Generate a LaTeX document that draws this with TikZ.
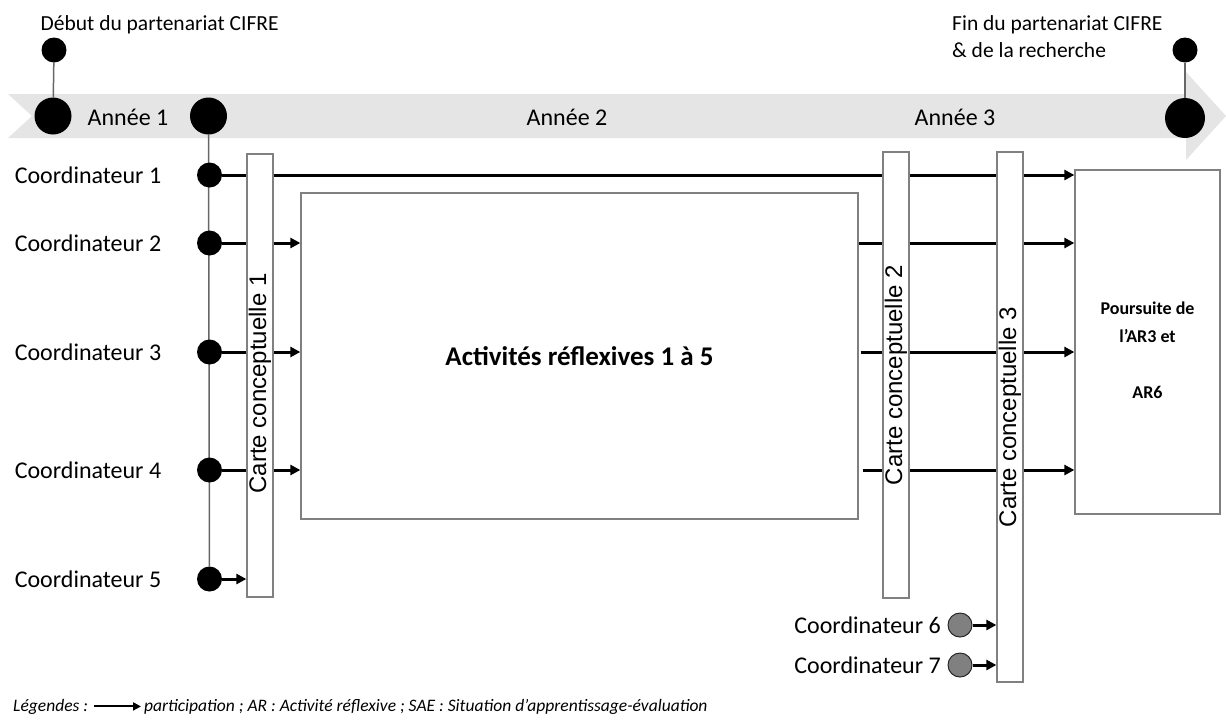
\documentclass[tikz,border=0pt]{standalone}
\usepackage{fontspec}
\setmainfont{Carlito}
\newfontfamily\arialfont{Liberation Sans}
\usetikzlibrary{arrows.meta, calc}
\pgfdeclarelayer{background}
\pgfsetlayers{background,main}

\begin{document}
\begin{tikzpicture}[x=1pt, y=-1pt, every node/.style={font=\fontsize{24}{29}\selectfont, inner sep=0pt}]
\tikzstyle{jalon} = [circle, fill=black, minimum size=37pt]
\tikzstyle{petitjalon} = [circle, fill=black, minimum size=25pt]
\tikzstyle{coordpt} = [circle, fill=black, minimum size=25pt]
\tikzstyle{coordgris} = [circle, draw=black!85, line width=1pt, fill=black!50, minimum size=24pt]
\tikzstyle{carte} = [rectangle, rotate=90, draw=black!50, line width=1.3pt, fill=white, minimum height=26pt, font=\arialfont\fontsize{24}{29}\selectfont]
\tikzstyle{bloc} = [rectangle, draw=black!50, line width=1.3pt, fill=white, align=center]
\tikzstyle{toplabel} = [font=\fontsize{21.5}{26}\selectfont]
\tikzstyle{legende} = [font=\itshape\fontsize{17.5}{21}\selectfont]
\tikzstyle{link} = [line width=3pt, -{Triangle[length=10pt, width=10pt]}]
\tikzstyle{fil} = [line width=1.5pt, black!60]

\useasboundingbox (0,0) rectangle (1226,724);

% Timeline (top)
\node[jalon] (t0) at (53,116) {};
\node[jalon] (t1) at (208.5,116) {};
\node[jalon, minimum size=40pt] (tfin) at (1185,118) {};
\node[petitjalon] (p0) at (54,50) {};
\node[petitjalon] (pfin) at (1185,50) {};
\node[toplabel, anchor=base west] (debut) at (40.5,30) {Début du partenariat CIFRE};
\node[toplabel, anchor=base west] (fin) at (952,30) {Fin du partenariat CIFRE};
\node[toplabel, anchor=base west] (fin2) at (952,57) {\& de la recherche};
\node (annee1) at (128,117) {Année 1};
\node (annee2) at (567,117) {Année 2};
\node (annee3) at (955,117) {Année 3};

% Coordinators 1 to 5 - on the vertical line
\foreach \i/\y in {1/175, 2/243, 3/352, 4/470, 5/579}{
  \node[coordpt] (c\i) at (209.5,\y) {};
  \node (l\i) at (88,\y) {Coordinateur \i};
}

% Coordinators 6 and 7 (grey)
\node[coordgris] (c6) at (960,625) {};
\node[coordgris] (c7) at (960,665) {};
\node[anchor=east] (l6) at (941,625) {Coordinateur 6};
\node[anchor=east] (l7) at (941,665) {Coordinateur 7};

% Concept maps and activity blocks
\node[carte, minimum width=443pt] (k1) at (260,375.5) {Carte conceptuelle 1\hspace*{16pt}};
\node[carte, minimum width=446pt] (k2) at (896,375) {Carte conceptuelle 2};
\node[carte, minimum width=530pt] (k3) at (1010,417) {Carte conceptuelle 3};
\node[bloc, minimum width=557pt, minimum height=326pt, font=\bfseries\fontsize{27}{32}\selectfont] (act) at (579.5,356) {Activités réflexives 1 à 5};
\node[bloc, minimum width=145pt, minimum height=344pt] (suite) at (1147.5,342) {};
\node[align=center, font=\bfseries\fontsize{18}{28}\selectfont] (suitetxt) at (1147.5,350) {Poursuite de\\l’AR3 et\\[28pt]AR6};

% Legend
\node[legende, anchor=base west] (leg) at (13,711) {Légendes :};
\node[legende, anchor=base west] (legtxt) at (144,711) {participation ; AR : Activité réflexive ; SAE : Situation d’apprentissage-évaluation};
\draw[line width=2pt, -{Triangle[length=8pt, width=8pt]}, shorten <=6pt, shorten >=3pt] (leg.east) -- (leg.east -| legtxt.west);

\begin{pgfonlayer}{background}
% Band of the timeline
\fill[black!10] (8,94) -- (1186,94) -- (1186,72) -- (1226,116) -- (1186,160) -- (1186,138) -- (8,138) -- (32,116) -- cycle;

% Thin links
\draw[fil] (p0) -- (t0);
\draw[fil] (pfin) -- (tfin);
\draw[fil] (t1) -- (c5);

% Participation arrows - left part
\draw[link] (c1) -- (c1 -| suite.west);
\foreach \i in {2,3,4} \draw[link] (c\i) -- (c\i -| act.west);
\draw[link] (c5) -- (c5 -| k1.north);
\draw[link] (c6) -- (c6 -| k3.north);
\draw[link] (c7) -- (c7 -| k3.north);

% Participation arrows - right part
\draw[link] ($(act.east |- c2)+(-7,0)$) -- (c2 -| suite.west);
\draw[link] ($(act.east |- c3)+(2,0)$) -- (c3 -| suite.west);
\draw[link] ($(act.east |- c4)+(4,0)$) -- (c4 -| suite.west);
\end{pgfonlayer}

\end{tikzpicture}
\end{document}
